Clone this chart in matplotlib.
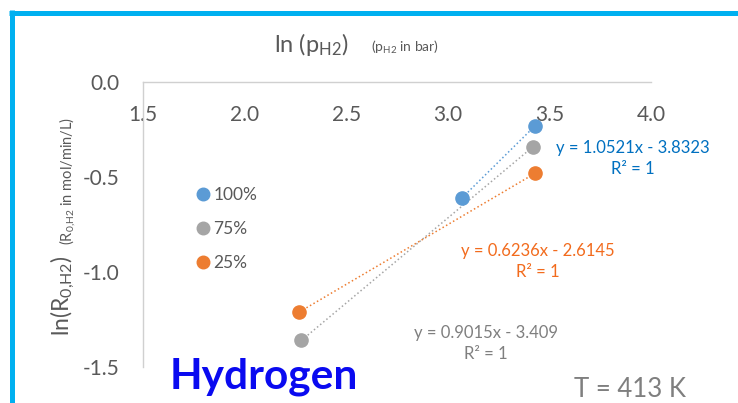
import numpy as np
import matplotlib
matplotlib.use("Agg")
import matplotlib.pyplot as plt
from matplotlib.lines import Line2D

plt.rcParams['font.family'] = ['Lato', 'DejaVu Sans']
plt.rcParams['mathtext.default'] = 'regular'

# data: ln(p_H2) vs ln(R0,H2) for the three H2 fractions
labels = ['100%', '75%', '25%']
x_100 = [3.07, 3.43]; y_100 = [-0.61, -0.23]
x_75 = [2.28, 3.42]; y_75 = [-1.36, -0.34]
x_25 = [2.27, 3.43]; y_25 = [-1.21, -0.48]
colors = ['#5B9BD5', '#A5A5A5', '#ED7D31']
eq_colors = ['#0070C0', '#7F7F7F', '#F26B1D']
eq_text = ['y = 1.0521x - 3.8323', 'y = 0.9015x - 3.409', 'y = 0.6236x - 2.6145']
eq_pos = [(3.91, -0.347), (3.188, -1.321), (3.444, -0.889)]  # where the fit labels sit
xticks = [1.5, 2.0, 2.5, 3.0, 3.5, 4.0]
yticks = [0.0, -0.5, -1.0, -1.5]

W, H = 738, 403
fig = plt.figure(figsize=(W/100, H/100), dpi=100)
ax = fig.add_axes([143/W, 1-367/H, (651-143)/W, (367-82)/H])

series = [(x_100, y_100), (x_75, y_75), (x_25, y_25)]
for (xs, ys), c, lab in zip(series, colors, labels):
    # linear trendline (2 points -> exact)
    k, b = np.polyfit(xs, ys, 1)
    xx = np.array([min(xs), max(xs)])
    ax.plot(xx, k*xx + b, ':', color=c, lw=1.1, zorder=2)
    ax.plot(xs, ys, 'o', color=c, ms=9.5, mec=c, label=lab, zorder=3)

for t, c, (px, py) in zip(eq_text, eq_colors, eq_pos):
    ax.text(px, py, t, color=c, fontsize=12, ha='center', va='center')
    ax.text(px, py - 0.112, 'R² = 1', color=c, fontsize=12, ha='center', va='center')

ax.set_xlim(1.5, 4.0)
ax.set_ylim(-1.5, 0.0)
ax.set_xticks(xticks)
ax.set_yticks(yticks)
ax.set_xticklabels(['%.1f' % v for v in xticks])
ax.set_yticklabels(['%.1f' % v for v in yticks])
ax.xaxis.tick_top()
ax.tick_params(axis='x', length=0, pad=-31, labelsize=15, labelcolor='#595959')
ax.tick_params(axis='y', length=0, pad=17, labelsize=15, labelcolor='#595959')
for s in ['bottom', 'right']:
    ax.spines[s].set_visible(False)
for s in ['top', 'left']:
    ax.spines[s].set_color('#D0D0D0')
    ax.spines[s].set_linewidth(1)
ax.patch.set_alpha(0)

leg = ax.legend(loc='upper left', bbox_to_anchor=(190/W, 1-178/H), bbox_transform=fig.transFigure,
                frameon=False, fontsize=12.5, handlelength=0.5, handletextpad=0.35,
                labelspacing=1.05, borderpad=0, markerscale=0.95)
for t in leg.get_texts():
    t.set_color('#595959')

# axis titles
fig.text(311/W, 1-45/H, 'ln (p$_{H2}$)', fontsize=17, color='#595959', ha='center', va='center')
fig.text(405/W, 1-47/H, '(p$_{H2}$ in bar)', fontsize=10, color='#595959', ha='center', va='center')
fig.text(63/W, 1-296/H, 'ln(R$_{0{,}H2}$)', fontsize=16.5, color='#595959', rotation=90, ha='center', va='center')
fig.text(67.5/W, 1-181/H, '(R$_{0{,}H2}$ in mol/min/L)', fontsize=10.5, color='#595959', rotation=90, ha='center', va='center')

fig.text(264/W, 1-388/H, 'Hydrogen', fontsize=30.5, fontweight='bold', color='#0A0AF0', ha='center', va='baseline')
fig.text(630/W, 1-397/H, 'T = 413 K', fontsize=18.5, color='#7F7F7F', ha='center', va='baseline')

# cyan frame on top and left
fig.add_artist(Line2D([9/W, 1], [1-12.5/H, 1-12.5/H], color='#00B0F0', lw=3.6, solid_capstyle='butt'))
fig.add_artist(Line2D([11.5/W, 11.5/W], [0, 1-10/H], color='#00B0F0', lw=3.6, solid_capstyle='butt'))

fig.savefig('out.png', dpi=100)
